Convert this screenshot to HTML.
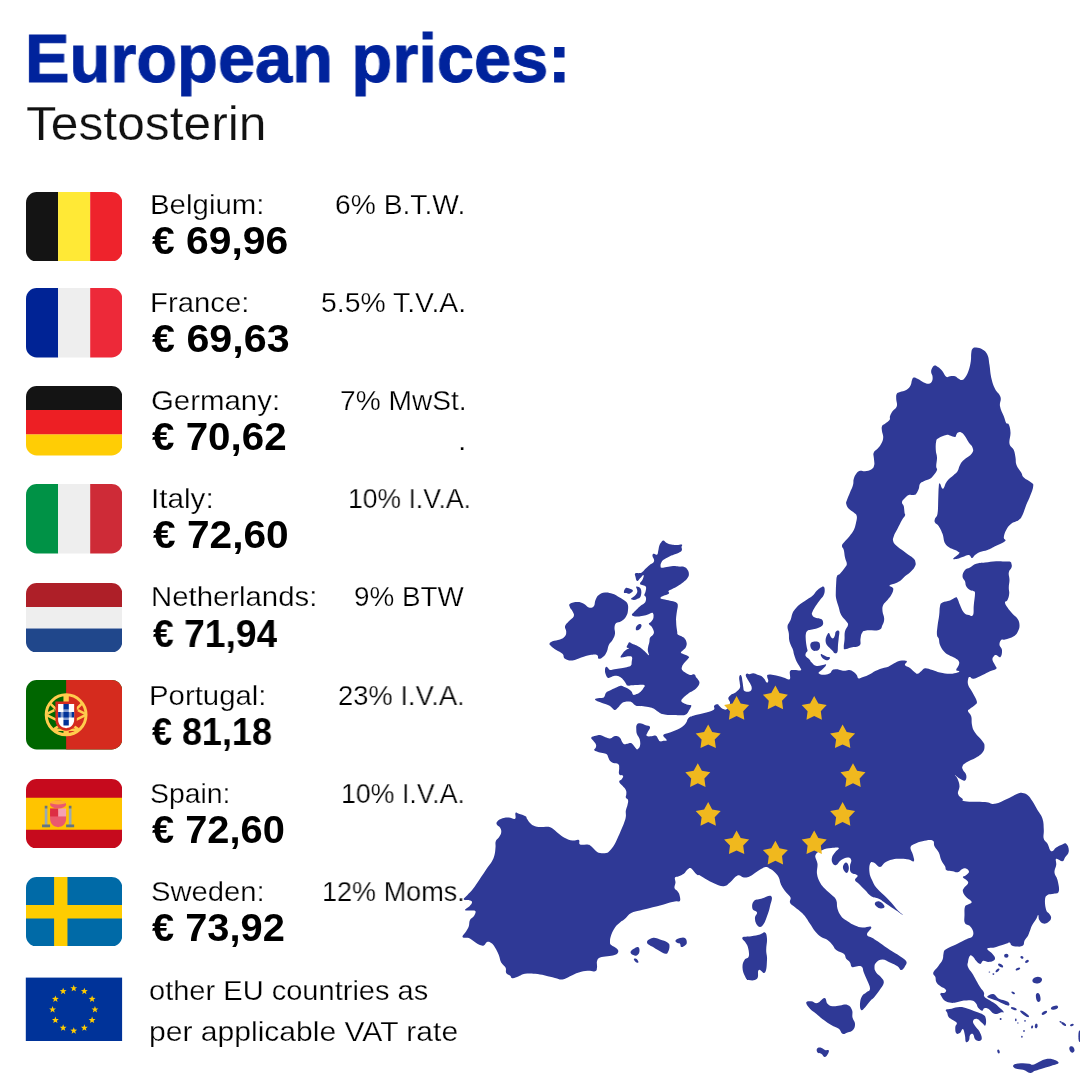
<!DOCTYPE html>
<html><head><meta charset="utf-8">
<style>
html,body{margin:0;padding:0;}
body{width:1080px;height:1080px;background:#fff;position:relative;overflow:hidden;font-family:"Liberation Sans",sans-serif;color:#000;}
.t{position:absolute;white-space:nowrap;line-height:1;transform-origin:0 0;will-change:transform;}
.t.l{-webkit-text-stroke:0.25px #fff;}
.t.b{-webkit-text-stroke:1px #00239c;}
.fl{position:absolute;display:block;}
#map{position:absolute;left:0;top:0;width:1080px;height:1080px;}
</style></head><body>

<div id="n0" class="t l" style="left:149.77px;top:190.92px;font-size:27.5px;font-weight:normal;color:#000;transform:scaleX(1.0697)">Belgium:</div>
<div id="p0" class="t" style="left:152.00px;top:222.03px;font-size:38px;font-weight:bold;color:#000;transform:scaleX(1.0739)">€ 69,96</div>
<div id="v0" class="t l" style="left:334.94px;top:190.92px;font-size:27.5px;font-weight:normal;color:#000;transform:scaleX(1.0272)">6% B.T.W.</div>
<div id="n1" class="t l" style="left:149.78px;top:289.05px;font-size:27.5px;font-weight:normal;color:#000;transform:scaleX(1.0662)">France:</div>
<div id="p1" class="t" style="left:152.00px;top:320.16px;font-size:38px;font-weight:bold;color:#000;transform:scaleX(1.0850)">€ 69,63</div>
<div id="v1" class="t l" style="left:320.93px;top:289.05px;font-size:27.5px;font-weight:normal;color:#000;transform:scaleX(1.0317)">5.5% T.V.A.</div>
<div id="n2" class="t l" style="left:150.85px;top:387.18px;font-size:27.5px;font-weight:normal;color:#000;transform:scaleX(1.0692)">Germany:</div>
<div id="p2" class="t" style="left:152.00px;top:418.29px;font-size:38px;font-weight:bold;color:#000;transform:scaleX(1.0617)">€ 70,62</div>
<div id="v2" class="t l" style="left:339.93px;top:387.18px;font-size:27.5px;font-weight:normal;color:#000;transform:scaleX(1.0229)">7% MwSt.</div>
<div id="n3" class="t l" style="left:150.70px;top:485.31px;font-size:27.5px;font-weight:normal;color:#000;transform:scaleX(1.0799)">Italy:</div>
<div id="p3" class="t" style="left:152.99px;top:516.42px;font-size:38px;font-weight:bold;color:#000;transform:scaleX(1.0704)">€ 72,60</div>
<div id="v3" class="t l" style="left:348.09px;top:485.31px;font-size:27.5px;font-weight:normal;color:#000;transform:scaleX(0.9649)">10% I.V.A.</div>
<div id="n4" class="t l" style="left:150.84px;top:583.44px;font-size:27.5px;font-weight:normal;color:#000;transform:scaleX(1.0664)">Netherlands:</div>
<div id="p4" class="t" style="left:153.01px;top:614.55px;font-size:38px;font-weight:bold;color:#000;transform:scaleX(0.9803)">€ 71,94</div>
<div id="v4" class="t l" style="left:353.97px;top:583.44px;font-size:27.5px;font-weight:normal;color:#000;transform:scaleX(1.0126)">9% BTW</div>
<div id="n5" class="t l" style="left:148.78px;top:681.57px;font-size:27.5px;font-weight:normal;color:#000;transform:scaleX(1.0677)">Portugal:</div>
<div id="p5" class="t" style="left:152.01px;top:712.68px;font-size:38px;font-weight:bold;color:#000;transform:scaleX(0.9457)">€ 81,18</div>
<div id="v5" class="t l" style="left:337.99px;top:681.57px;font-size:27.5px;font-weight:normal;color:#000;transform:scaleX(0.9945)">23% I.V.A.</div>
<div id="n6" class="t l" style="left:149.92px;top:779.70px;font-size:27.5px;font-weight:normal;color:#000;transform:scaleX(1.0322)">Spain:</div>
<div id="p6" class="t" style="left:152.00px;top:810.81px;font-size:38px;font-weight:bold;color:#000;transform:scaleX(1.0481)">€ 72,60</div>
<div id="v6" class="t l" style="left:341.06px;top:779.70px;font-size:27.5px;font-weight:normal;color:#000;transform:scaleX(0.9723)">10% I.V.A.</div>
<div id="n7" class="t l" style="left:150.86px;top:877.83px;font-size:27.5px;font-weight:normal;color:#000;transform:scaleX(1.0621)">Sweden:</div>
<div id="p7" class="t" style="left:152.00px;top:908.94px;font-size:38px;font-weight:bold;color:#000;transform:scaleX(1.0481)">€ 73,92</div>
<div id="v7" class="t l" style="left:322.04px;top:877.83px;font-size:27.5px;font-weight:normal;color:#000;transform:scaleX(0.9830)">12% Moms.</div>
<div id="o1" class="t l" style="left:148.89px;top:976.62px;font-size:27.5px;font-weight:normal;color:#000;transform:scaleX(1.0560)">other EU countries as</div>
<div id="o2" class="t l" style="left:148.81px;top:1018.22px;font-size:27.5px;font-weight:normal;color:#000;transform:scaleX(1.0932)">per applicable VAT rate</div>
<div id="dot" class="t l" style="left:457.50px;top:426.72px;font-size:27.5px;font-weight:normal;color:#000;transform:scaleX(1.1000)">.</div>
<div id="title" class="t b" style="left:25.16px;top:24.34px;font-size:69.3px;font-weight:bold;color:#00239c;transform:scaleX(0.9635)">European prices:</div>
<div id="sub" class="t l" style="left:25.95px;top:99.99px;font-size:47.5px;font-weight:normal;color:#111;transform:scaleX(1.0467)">Testosterin</div>
<svg class="fl" style="left:25.7px;top:191.5px;width:96.3px;height:69.55px" viewBox="0 5 36 26" preserveAspectRatio="none"><path fill="#141414" d="M4 5C1.791 5 0 6.791 0 9v18c0 2.209 1.791 4 4 4h8V5H4z"/><path fill="#FFE936" d="M12 5h12v26H12z"/><path fill="#EE232C" d="M32 5h-8v26h8c2.209 0 4-1.791 4-4V9c0-2.209-1.791-4-4-4z"/></svg>
<svg class="fl" style="left:25.7px;top:288.0px;width:96.3px;height:69.55px" viewBox="0 5 36 26" preserveAspectRatio="none"><path fill="#002395" d="M4 5C1.791 5 0 6.791 0 9v18c0 2.209 1.791 4 4 4h8V5H4z"/><path fill="#EEEEEE" d="M12 5h12v26H12z"/><path fill="#ED2939" d="M32 5h-8v26h8c2.209 0 4-1.791 4-4V9c0-2.209-1.791-4-4-4z"/></svg>
<svg class="fl" style="left:25.7px;top:386.0px;width:96.3px;height:69.55px" viewBox="0 5 36 26" preserveAspectRatio="none"><path fill="#FFCD05" d="M0 27c0 2.209 1.791 4 4 4h28c2.209 0 4-1.791 4-4v-4H0v4z"/><path fill="#ED1F24" d="M0 14h36v9H0z"/><path fill="#141414" d="M32 5H4C1.791 5 0 6.791 0 9v5h36V9c0-2.209-1.791-4-4-4z"/></svg>
<svg class="fl" style="left:25.7px;top:484.0px;width:96.3px;height:69.55px" viewBox="0 5 36 26" preserveAspectRatio="none"><path fill="#009246" d="M4 5C1.791 5 0 6.791 0 9v18c0 2.209 1.791 4 4 4h8V5H4z"/><path fill="#EEEEEE" d="M12 5h12v26H12z"/><path fill="#CE2B37" d="M32 5h-8v26h8c2.209 0 4-1.791 4-4V9c0-2.209-1.791-4-4-4z"/></svg>
<svg class="fl" style="left:25.7px;top:582.6px;width:96.3px;height:69.55px" viewBox="0 5 36 26" preserveAspectRatio="none"><path fill="#EEEEEE" d="M0 14h36v8H0z"/><path fill="#AE1F28" d="M32 5H4C1.791 5 0 6.791 0 9v5h36V9c0-2.209-1.791-4-4-4z"/><path fill="#20478B" d="M0 27c0 2.209 1.791 4 4 4h28c2.209 0 4-1.791 4-4v-5H0v5z"/></svg>
<svg class="fl" style="left:25.7px;top:680.1px;width:96.3px;height:69.55px" viewBox="0 5 36 26" preserveAspectRatio="none"><path fill="#006600" d="M36 27c0 2.209-1.791 4-4 4H4c-2.209 0-4-1.791-4-4V9c0-2.209 1.791-4 4-4h28c2.209 0 4 1.791 4 4v18z"/><path fill="#D52B1E" d="M32 5H15v26h17c2.209 0 4-1.791 4-4V9c0-2.209-1.791-4-4-4z"/><g fill="none" stroke="#FFCC4D" stroke-linecap="butt"><circle cx="15" cy="18" r="7.45" stroke-width="1.1"/><path stroke-width="2" d="M15 10.3v15.4"/><path stroke-width="0.95" d="M9.2 13.9l5.2 5.2M20.8 13.9l-5.2 5.2M7.8 18.1l5.6 2.8M22.2 18.1l-5.6 2.8M10.4 23.4l4-2.7M19.6 23.4l-4-2.7M10.6 23.6h8.8M8 17.6l2.6-1.3M22 17.6l-2.6-1.3"/></g><path fill="#D52B1E" d="M11 13v7c0 2.209 1.791 4 4 4s4-1.791 4-4v-7h-8z"/><path fill="#FFF" d="M12 14v6c0 1.656 1.343 3 3 3s3-1.344 3-3v-6h-6z"/><path fill="#829ACD" d="M13 17h4v2h-4z"/><path fill="#829ACD" d="M14 16h2v4h-2z"/><path fill="#039" d="M12 17h1v2h-1zm2 0h2v2h-2zm3 0h1v2h-1zm-3 3h2v2h-2zm0-6h2v2h-2z"/></svg>
<svg class="fl" style="left:25.7px;top:778.5px;width:96.3px;height:69.55px" viewBox="0 5 36 26" preserveAspectRatio="none"><path fill="#C60A1D" d="M36 27c0 2.209-1.791 4-4 4H4c-2.209 0-4-1.791-4-4V9c0-2.209 1.791-4 4-4h28c2.209 0 4 1.791 4 4v18z"/><path fill="#FFC400" d="M0 12h36v12H0z"/><path fill="#EA596E" d="M9 17v3c0 1.657 1.343 3 3 3s3-1.343 3-3v-3H9z"/><path fill="#F4A2B2" d="M12 16h3v3h-3z"/><path fill="#DD2E44" d="M9 16h3v3H9z"/><ellipse fill="#EA596E" cx="12" cy="14.5" rx="3" ry="1.5"/><ellipse fill="#FFAC33" cx="12" cy="13.75" rx="3" ry=".75"/><path fill="#99AAB5" d="M7 16h1v7H7zm9 0h1v7h-1z"/><path fill="#66757F" d="M6 22h3v1H6zm9 0h3v1h-3zm-8-7h1v1H7zm9 0h1v1h-1z"/></svg>
<svg class="fl" style="left:25.7px;top:876.6px;width:96.3px;height:69.55px" viewBox="0 5 36 26" preserveAspectRatio="none"><path fill="#006AA7" d="M36 27c0 2.209-1.791 4-4 4H4c-2.209 0-4-1.791-4-4V9c0-2.209 1.791-4 4-4h28c2.209 0 4 1.791 4 4v18z"/><path fill="#FECC00" d="M10.5 5h5v26h-5z"/><path fill="#FECC00" d="M0 15.5h36v5H0z"/></svg>
<svg class="fl" style="left:0;top:0;width:1080px;height:1080px" viewBox="0 0 1080 1080"><rect x="25.8" y="977.6" width="96.3" height="63.4" fill="#003399"/><g fill="#FFCC00"><polygon points="73.75,984.80 74.64,987.18 77.17,987.29 75.19,988.87 75.87,991.31 73.75,989.91 71.63,991.31 72.31,988.87 70.33,987.29 72.86,987.18"/><polygon points="84.35,987.64 85.24,990.02 87.77,990.13 85.79,991.71 86.47,994.15 84.35,992.75 82.23,994.15 82.91,991.71 80.93,990.13 83.46,990.02"/><polygon points="92.11,995.40 93.00,997.78 95.53,997.89 93.55,999.47 94.23,1001.91 92.11,1000.51 89.99,1001.91 90.67,999.47 88.69,997.89 91.22,997.78"/><polygon points="94.95,1006.00 95.84,1008.38 98.37,1008.49 96.39,1010.07 97.07,1012.51 94.95,1011.11 92.83,1012.51 93.51,1010.07 91.53,1008.49 94.06,1008.38"/><polygon points="92.11,1016.60 93.00,1018.98 95.53,1019.09 93.55,1020.67 94.23,1023.11 92.11,1021.71 89.99,1023.11 90.67,1020.67 88.69,1019.09 91.22,1018.98"/><polygon points="84.35,1024.36 85.24,1026.74 87.77,1026.85 85.79,1028.43 86.47,1030.87 84.35,1029.47 82.23,1030.87 82.91,1028.43 80.93,1026.85 83.46,1026.74"/><polygon points="73.75,1027.20 74.64,1029.58 77.17,1029.69 75.19,1031.27 75.87,1033.71 73.75,1032.31 71.63,1033.71 72.31,1031.27 70.33,1029.69 72.86,1029.58"/><polygon points="63.15,1024.36 64.04,1026.74 66.57,1026.85 64.59,1028.43 65.27,1030.87 63.15,1029.47 61.03,1030.87 61.71,1028.43 59.73,1026.85 62.26,1026.74"/><polygon points="55.39,1016.60 56.28,1018.98 58.81,1019.09 56.83,1020.67 57.51,1023.11 55.39,1021.71 53.27,1023.11 53.95,1020.67 51.97,1019.09 54.50,1018.98"/><polygon points="52.55,1006.00 53.44,1008.38 55.97,1008.49 53.99,1010.07 54.67,1012.51 52.55,1011.11 50.43,1012.51 51.11,1010.07 49.13,1008.49 51.66,1008.38"/><polygon points="55.39,995.40 56.28,997.78 58.81,997.89 56.83,999.47 57.51,1001.91 55.39,1000.51 53.27,1001.91 53.95,999.47 51.97,997.89 54.50,997.78"/><polygon points="63.15,987.64 64.04,990.02 66.57,990.13 64.59,991.71 65.27,994.15 63.15,992.75 61.03,994.15 61.71,991.71 59.73,990.13 62.26,990.02"/></g></svg>
<svg id="map" viewBox="0 0 1080 1080">
<g fill="#2f3996">
<path d="M591.3 737.5C591.9 736.4 594.0 736.4 595.8 735.8C597.7 735.3 598.4 734.9 600.0 735.0C601.6 735.1 601.7 735.7 603.3 736.3C605.0 737.0 605.9 737.6 607.5 738.0C609.1 738.4 609.4 738.7 610.8 738.3C612.3 738.0 612.7 736.8 614.2 736.3C615.6 735.9 616.2 735.9 617.5 736.3C618.8 736.8 619.4 737.2 620.3 738.3C621.3 739.5 621.2 740.4 622.0 741.7C622.8 742.9 623.0 743.7 624.2 744.2C625.4 744.6 626.1 743.9 627.5 743.7C628.9 743.4 629.6 742.7 630.8 743.0C632.1 743.3 632.2 743.8 633.3 745.0C634.4 746.2 634.9 747.4 635.8 748.3C636.7 749.2 636.6 749.7 637.5 749.2C638.4 748.6 639.5 748.0 640.0 745.8C640.5 743.7 640.3 741.7 639.7 739.2C639.0 736.6 637.7 736.2 637.0 734.2C636.3 732.2 636.4 732.0 636.3 730.0C636.3 728.0 635.9 726.4 636.7 725.0C637.5 723.6 638.2 723.3 640.0 723.3C641.8 723.3 642.8 724.2 645.0 725.0C647.2 725.8 649.5 725.4 650.0 727.0C650.5 728.6 648.2 730.6 647.5 732.5C646.8 734.4 645.8 735.0 646.7 735.8C647.6 736.7 649.7 736.3 651.7 736.3C653.7 736.3 654.4 735.2 655.8 735.8C657.3 736.4 657.4 738.0 658.3 739.2C659.2 740.4 658.9 741.0 660.0 741.3C661.1 741.7 661.9 741.1 663.3 740.8C664.8 740.5 666.7 741.3 666.7 740.0C666.7 738.7 662.6 736.6 663.3 735.0C664.1 733.4 666.4 733.9 670.0 732.5C673.6 731.1 676.6 730.3 680.0 728.3C683.4 726.3 684.0 725.5 685.8 723.3C687.6 721.2 686.7 720.0 688.3 718.3C690.0 716.7 690.1 716.9 693.3 715.8C696.6 714.8 699.0 714.6 703.3 713.3C707.7 712.1 711.0 711.6 713.3 710.0C715.7 708.4 713.3 707.1 714.2 705.8C715.1 704.6 716.4 704.2 717.5 704.2C718.6 704.1 718.2 704.8 719.2 705.8C720.3 706.7 720.8 708.0 722.5 708.8C724.2 709.5 725.4 710.2 727.0 709.0C728.6 707.8 729.7 705.3 730.0 703.0C730.3 700.7 728.2 700.1 728.3 698.3C728.5 696.6 729.6 696.1 730.8 695.0C732.1 693.9 732.7 694.2 734.2 693.3C735.6 692.4 736.2 692.1 737.5 690.8C738.8 689.6 739.5 689.3 740.0 687.5C740.5 685.7 739.8 684.7 739.7 682.5C739.5 680.3 739.0 679.1 739.2 677.5C739.3 675.9 739.8 675.2 740.3 675.0C740.9 674.8 741.2 675.2 741.7 676.7C742.1 678.1 742.1 679.3 742.5 681.7C742.9 684.0 743.0 685.5 743.3 687.5C743.7 689.5 743.3 689.9 744.2 690.8C745.1 691.7 746.1 691.7 747.5 691.7C748.9 691.7 749.9 691.7 750.8 690.8C751.7 689.9 751.8 689.1 751.7 687.5C751.5 685.9 750.9 685.1 750.0 683.3C749.1 681.5 748.4 680.8 747.5 679.2C746.6 677.5 746.0 677.0 745.8 675.8C745.7 674.6 745.9 674.0 746.7 673.7C747.4 673.3 747.7 674.2 749.2 674.2C750.6 674.1 751.5 673.2 753.3 673.3C755.1 673.4 755.9 674.1 757.5 674.7C759.1 675.2 759.4 675.0 760.8 675.8C762.3 676.7 762.9 677.2 764.2 678.7C765.4 680.1 765.8 682.0 766.7 682.5C767.6 683.0 768.2 682.1 768.3 680.8C768.4 679.6 767.2 678.0 767.2 676.7C767.2 675.3 766.6 675.0 768.3 674.7C770.0 674.4 771.8 674.7 775.0 675.3C778.2 675.9 780.2 676.7 783.3 677.5C786.5 678.3 788.2 680.5 789.7 679.2C791.1 677.8 789.0 673.3 790.0 671.3C791.0 669.3 791.8 670.2 794.2 670.0C796.5 669.8 799.6 671.1 800.8 670.3C802.0 669.6 800.6 668.5 799.7 666.7C798.8 664.8 797.9 664.2 796.7 661.7C795.5 659.1 795.0 657.5 794.2 655.0C793.4 652.5 793.7 652.2 793.0 650.0C792.3 647.8 791.7 647.2 790.8 645.0C790.0 642.8 789.6 642.5 789.2 640.0C788.7 637.5 789.2 636.2 788.8 633.3C788.5 630.4 787.4 629.0 787.5 626.7C787.6 624.3 788.4 624.1 789.2 622.5C789.9 620.9 790.1 621.2 790.8 619.2C791.6 617.2 791.6 615.5 792.5 613.3C793.4 611.2 793.4 611.2 795.0 609.2C796.6 607.2 797.5 606.2 800.0 604.2C802.5 602.1 804.0 601.5 806.7 599.7C809.4 597.9 810.3 597.7 812.5 595.8C814.7 593.9 814.9 592.6 816.7 590.8C818.5 589.0 819.3 588.4 820.8 587.5C822.4 586.6 822.8 586.1 823.7 586.7C824.5 587.2 824.7 588.2 824.7 590.0C824.7 591.8 824.7 592.8 823.7 595.0C822.7 597.2 821.7 597.7 820.0 600.0C818.3 602.3 817.5 603.3 815.8 605.8C814.2 608.4 813.3 609.7 812.5 611.7C811.7 613.7 811.6 613.7 812.2 615.0C812.7 616.3 813.3 616.7 815.0 617.5C816.7 618.3 818.4 618.1 820.0 618.7C821.6 619.3 821.9 619.1 822.5 620.3C823.1 621.5 823.4 622.8 823.0 624.2C822.6 625.5 822.4 625.7 820.8 626.7C819.3 627.6 818.0 628.0 815.8 628.7C813.7 629.3 812.6 629.2 810.8 629.7C809.0 630.1 808.6 629.9 807.5 630.8C806.4 631.8 806.2 632.2 805.8 634.2C805.5 636.2 805.7 637.3 805.8 640.0C806.0 642.7 806.3 644.3 806.7 646.7C807.0 649.0 807.7 649.4 807.5 650.8C807.3 652.3 806.2 652.1 805.8 653.3C805.5 654.5 805.1 655.1 805.8 656.3C806.6 657.6 807.9 657.8 809.2 659.2C810.4 660.5 810.2 661.1 811.7 662.5C813.1 663.9 813.7 665.2 815.8 665.8C818.0 666.4 819.5 665.7 821.7 665.3C823.8 665.0 825.1 663.9 825.8 664.2C826.6 664.5 825.9 665.4 825.0 666.7C824.1 667.9 823.0 668.7 821.7 670.0C820.3 671.3 819.0 671.6 818.7 672.5C818.3 673.4 818.6 673.7 820.0 674.2C821.4 674.6 822.8 674.8 825.0 674.7C827.2 674.5 828.4 674.3 830.0 673.3C831.6 672.3 831.1 670.9 832.5 670.0C833.9 669.1 835.0 669.2 836.7 669.2C838.3 669.2 838.4 669.6 840.0 670.0C841.6 670.4 842.2 670.8 844.2 670.8C846.2 670.8 847.2 669.8 849.2 670.0C851.2 670.2 851.7 670.6 853.3 671.7C855.0 672.8 855.6 673.6 856.7 675.0C857.8 676.4 857.2 677.8 858.3 678.3C859.4 678.9 859.5 678.2 861.7 677.5C863.8 676.8 865.3 676.4 868.3 675.0C871.4 673.6 872.8 672.3 875.8 670.8C878.9 669.4 879.8 669.2 882.5 668.3C885.2 667.4 885.8 667.8 888.3 666.7C890.9 665.6 891.6 664.6 894.2 663.3C896.7 662.1 897.3 661.3 900.0 660.8C902.7 660.4 905.7 660.3 906.8 661.2C907.8 662.2 904.3 663.5 905.0 665.0C905.7 666.5 907.8 666.4 910.0 668.0C912.2 669.6 913.4 671.3 915.0 672.5C916.6 673.7 916.1 674.0 917.5 673.8C918.9 673.5 919.6 672.4 921.2 671.2C922.9 670.1 922.6 668.5 925.0 668.2C927.4 668.0 929.2 669.1 932.5 670.0C935.8 670.9 936.2 671.7 940.0 672.5C943.8 673.3 946.2 673.8 950.0 673.8C953.8 673.8 955.5 673.0 957.5 672.5C959.5 672.0 959.5 671.8 959.2 671.2C959.0 670.7 956.4 671.4 956.2 670.0C956.1 668.6 958.2 666.9 958.8 665.0C959.3 663.1 959.6 662.8 958.8 661.2C957.9 659.7 957.2 659.4 955.0 658.0C952.8 656.6 951.2 656.5 948.8 655.0C946.3 653.5 945.6 653.4 943.8 651.2C941.9 649.1 941.1 647.7 940.0 645.0C938.9 642.3 939.4 640.9 938.8 638.8C938.1 636.6 937.3 637.7 937.0 635.0C936.7 632.3 937.0 630.6 937.5 626.2C938.0 621.9 938.7 619.3 939.2 615.0C939.8 610.7 939.3 609.0 940.0 606.2C940.7 603.5 940.3 603.7 942.5 602.5C944.7 601.3 947.2 601.6 950.0 600.5C952.8 599.4 953.9 597.9 955.5 597.5C957.1 597.1 956.5 597.1 957.5 598.8C958.5 600.4 958.6 602.0 960.0 605.0C961.4 608.0 961.9 610.3 963.8 612.5C965.6 614.7 966.7 614.5 968.8 615.0C970.8 615.5 971.9 617.2 973.0 615.0C974.1 612.8 973.3 609.6 973.8 605.0C974.2 600.4 975.0 596.7 975.0 593.8C975.0 590.8 974.8 592.1 973.8 591.2C972.7 590.4 971.6 591.1 970.0 590.0C968.4 588.9 967.3 588.1 966.2 586.2C965.2 584.4 965.8 583.4 965.0 581.2C964.2 579.1 962.5 578.7 962.5 576.2C962.5 573.8 963.4 571.9 965.0 570.0C966.6 568.1 967.6 568.9 970.0 567.5C972.4 566.1 973.0 564.8 976.2 563.8C979.5 562.7 980.7 563.0 985.0 562.5C989.3 562.0 991.6 561.5 996.2 561.2C1000.9 561.0 1003.2 561.4 1006.2 561.5C1009.3 561.6 1009.1 561.2 1010.2 561.8C1011.4 562.3 1011.2 562.8 1011.5 564.0C1011.8 565.2 1012.1 565.7 1011.5 567.5C1010.9 569.3 1009.2 569.8 1008.8 572.5C1008.3 575.2 1009.5 576.8 1009.5 580.0C1009.5 583.2 1008.8 584.5 1008.8 587.5C1008.7 590.5 1009.5 591.0 1009.2 593.8C1009.0 596.5 1008.4 598.1 1007.5 600.0C1006.6 601.9 1005.0 600.9 1005.0 602.5C1005.0 604.1 1005.9 605.1 1007.5 607.5C1009.1 609.9 1010.3 611.3 1012.5 613.8C1014.7 616.2 1016.0 616.3 1017.5 618.8C1019.0 621.2 1019.4 622.3 1019.5 625.0C1019.6 627.7 1019.2 628.8 1018.0 631.2C1016.8 633.7 1016.6 634.5 1013.8 636.2C1010.9 638.0 1007.7 638.7 1005.0 639.5C1002.3 640.3 1002.4 638.8 1001.2 640.0C1000.1 641.2 999.3 642.8 999.5 645.0C999.7 647.2 1001.8 647.4 1002.0 650.0C1002.2 652.6 1001.7 655.9 1000.5 657.0C999.3 658.1 997.7 655.2 996.2 655.0C994.8 654.8 994.6 655.2 993.8 656.2C992.9 657.3 992.2 658.1 992.5 660.0C992.8 661.9 994.2 663.1 995.0 665.0C995.8 666.9 997.3 667.4 996.2 668.8C995.2 670.1 993.0 669.9 990.0 671.2C987.0 672.6 986.0 673.4 982.5 675.0C979.0 676.6 976.5 678.3 973.8 678.8C971.0 679.2 971.2 677.0 970.0 677.0C968.8 677.0 968.6 677.0 968.2 678.8C967.9 680.5 967.3 682.0 968.2 685.0C969.2 688.0 970.7 689.0 972.5 692.5C974.3 696.0 976.2 698.5 976.8 701.2C977.3 704.0 976.5 703.4 975.0 705.0C973.5 706.6 971.5 707.4 970.0 708.8C968.5 710.1 967.7 709.6 968.0 711.2C968.3 712.9 970.4 713.3 971.2 716.2C972.1 719.2 971.2 721.5 972.0 725.0C972.8 728.5 972.7 729.0 975.0 732.5C977.3 736.0 980.4 738.3 982.5 741.2C984.6 744.2 984.5 743.8 984.5 746.2C984.5 748.7 984.3 750.1 982.5 752.5C980.7 754.9 979.8 755.3 976.2 757.5C972.7 759.7 969.2 760.6 966.2 762.5C963.3 764.4 963.2 764.6 962.5 766.2C961.8 767.9 962.2 768.1 963.0 770.0C963.8 771.9 965.8 772.7 966.2 775.0C966.7 777.3 966.4 779.7 965.0 780.5C963.6 781.3 962.2 779.9 960.0 778.8C957.8 777.6 955.5 775.0 955.0 775.0C954.5 775.0 956.5 776.3 957.5 778.8C958.5 781.2 959.4 783.0 959.5 786.2C959.6 789.5 957.4 791.0 958.0 793.8C958.6 796.5 961.0 797.1 962.5 798.8C964.0 800.4 960.1 800.5 965.0 801.2C969.9 802.0 978.5 801.5 985.0 802.0C991.5 802.5 990.1 804.5 995.0 803.8C999.9 803.0 1002.6 800.9 1007.5 798.8C1012.4 796.6 1014.2 795.0 1017.5 793.8C1020.8 792.5 1020.3 792.7 1022.5 793.0C1024.7 793.3 1025.3 793.2 1027.5 795.0C1029.7 796.8 1030.3 798.0 1032.5 801.2C1034.7 804.5 1035.3 806.2 1037.5 810.0C1039.7 813.8 1041.1 814.4 1042.5 818.8C1043.9 823.1 1043.5 825.7 1043.8 830.0C1044.0 834.3 1042.9 835.8 1043.8 838.8C1044.6 841.7 1045.9 841.0 1047.5 843.8C1049.1 846.5 1049.4 850.4 1051.2 851.2C1053.1 852.1 1054.1 848.9 1056.2 847.5C1058.4 846.1 1059.1 845.8 1061.2 845.0C1063.4 844.2 1064.6 842.4 1066.2 843.8C1067.9 845.1 1069.0 848.3 1068.8 851.2C1068.5 854.2 1066.4 855.3 1065.0 857.5C1063.6 859.7 1064.4 861.0 1062.5 861.2C1060.6 861.5 1057.6 857.9 1056.2 858.8C1054.9 859.6 1056.6 862.0 1056.2 865.0C1055.9 868.0 1054.2 869.2 1054.5 872.5C1054.8 875.8 1056.6 875.9 1057.5 880.0C1058.4 884.1 1059.6 888.3 1058.8 891.2C1057.9 894.2 1056.2 892.9 1053.8 893.8C1051.3 894.6 1049.4 893.6 1047.5 895.0C1045.6 896.4 1045.3 896.8 1045.0 900.0C1044.7 903.2 1045.3 907.0 1046.2 910.0C1047.2 913.0 1048.4 912.2 1049.4 914.0C1050.5 915.7 1051.3 916.3 1051.1 918.1C1050.9 919.8 1050.1 920.9 1048.4 922.1C1046.7 923.3 1045.3 924.0 1043.3 923.6C1041.3 923.1 1040.4 921.9 1039.3 920.1C1038.2 918.2 1038.9 915.2 1038.2 915.0C1037.6 914.8 1037.5 916.9 1036.2 919.1C1034.9 921.3 1033.5 922.8 1032.1 925.2C1030.8 927.6 1031.0 928.1 1030.1 930.3C1029.2 932.5 1029.2 933.2 1028.1 935.4C1026.9 937.6 1025.7 938.3 1024.6 940.5C1023.5 942.7 1024.6 944.2 1023.0 945.6C1021.3 946.9 1019.3 946.6 1016.9 946.6C1014.4 946.6 1013.3 946.4 1011.8 945.6C1010.2 944.7 1010.8 942.9 1009.7 942.5C1008.6 942.1 1008.7 942.9 1006.7 943.5C1004.7 944.2 1003.2 944.7 1000.6 945.6C997.9 946.4 997.3 946.9 994.4 947.6C991.6 948.3 988.0 947.5 987.3 948.6C986.7 949.7 989.8 950.8 991.4 952.7C993.0 954.6 994.4 955.6 994.9 957.4C995.3 959.1 994.8 959.9 993.4 960.8C992.0 961.8 990.5 961.9 988.3 961.9C986.1 961.9 985.0 960.4 983.2 960.8C981.5 961.3 981.7 963.9 980.2 963.9C978.6 963.9 977.7 962.4 976.1 960.8C974.6 959.3 974.4 957.9 973.1 956.8C971.7 955.7 971.1 954.6 970.0 955.7C968.9 956.8 968.4 959.4 968.0 961.9C967.5 964.3 967.1 964.5 968.0 966.9C968.8 969.4 970.3 970.2 972.0 973.1C973.8 975.9 974.3 977.1 976.1 980.2C977.9 983.3 978.5 984.7 980.2 987.3C981.9 990.0 983.0 990.4 983.9 992.4C984.7 994.4 983.3 994.9 984.3 996.5C985.2 998.0 986.3 998.2 988.3 999.5C990.3 1000.9 991.2 1001.0 993.4 1002.6C995.6 1004.1 996.3 1004.7 998.5 1006.7C1000.7 1008.7 1003.2 1010.5 1003.6 1011.8C1004.1 1013.0 1002.5 1011.9 1000.6 1012.4C998.6 1012.8 997.1 1014.6 994.4 1013.8C991.8 1013.0 990.5 1009.9 988.3 1008.7C986.1 1007.5 985.6 1007.9 984.3 1008.3C982.9 1008.7 983.5 1010.9 982.2 1010.7C980.9 1010.6 979.5 1009.2 978.1 1007.7C976.8 1006.1 977.4 1005.2 976.1 1003.6C974.8 1002.1 974.7 1001.2 972.0 1000.6C969.4 999.9 967.4 1000.1 963.9 1000.6C960.4 1001.0 958.8 1002.2 955.7 1002.6C952.7 1003.0 952.1 1003.0 949.6 1002.6C947.2 1002.2 946.3 1001.9 944.5 1000.6C942.8 999.2 942.4 998.0 941.5 996.5C940.6 994.9 939.7 994.3 940.5 993.4C941.3 992.5 944.0 993.3 945.1 992.4C946.3 991.5 946.6 990.7 945.6 989.4C944.5 988.0 942.4 987.8 940.5 986.3C938.5 984.8 937.5 984.2 936.4 982.2C935.3 980.2 936.0 979.2 935.4 977.1C934.7 975.1 932.7 975.1 933.3 972.6C934.0 970.2 936.4 968.7 938.4 965.9C940.4 963.1 941.4 962.5 942.5 959.8C943.6 957.2 942.9 955.9 943.5 953.7C944.2 951.5 943.3 951.4 945.6 949.6C947.8 947.9 950.2 947.3 953.7 945.6C957.2 943.8 958.8 943.0 961.9 941.5C964.9 939.9 965.7 939.5 968.0 938.4C970.3 937.3 971.3 937.9 972.4 936.4C973.5 934.8 973.6 933.5 973.1 931.3C972.5 929.1 971.8 928.0 970.0 926.2C968.2 924.4 966.1 925.6 964.9 923.1C963.7 920.7 964.5 918.5 964.5 915.0C964.5 911.5 964.2 909.1 964.9 906.9C965.7 904.6 966.5 905.5 968.0 904.4C969.4 903.3 972.1 903.4 971.6 901.8C971.2 900.1 967.8 898.9 965.9 896.7C964.0 894.5 963.2 893.6 962.9 891.6C962.5 889.6 963.2 889.3 964.3 887.5C965.4 885.7 967.4 885.0 968.0 883.4C968.5 881.9 968.0 881.7 966.9 880.4C965.8 879.0 963.1 878.4 962.9 877.3C962.6 876.2 964.6 876.5 965.9 875.3C967.2 874.1 969.0 873.3 969.0 871.8C969.0 870.4 967.5 869.1 965.9 868.6C964.4 868.0 963.6 868.4 961.9 869.2C960.1 870.0 959.8 871.8 957.8 872.2C955.8 872.7 955.1 871.6 952.7 871.2C950.3 870.8 948.2 871.3 946.6 870.2C944.9 869.1 946.2 868.5 945.0 866.2C943.8 864.0 942.6 863.0 941.2 860.0C939.9 857.0 940.2 855.5 938.8 852.5C937.3 849.5 935.9 848.9 934.5 846.2C933.1 843.6 935.1 841.6 932.5 840.5C929.9 839.4 926.3 840.5 922.5 841.2C918.7 842.0 917.6 842.4 915.0 843.8C912.4 845.1 910.9 845.1 910.5 847.5C910.1 849.9 912.3 852.0 913.0 855.0C913.7 858.0 914.7 860.3 913.8 861.2C912.8 862.2 911.5 860.0 908.8 859.5C906.0 859.0 904.8 858.8 901.2 858.8C897.7 858.8 896.0 858.7 892.5 859.5C889.0 860.3 887.7 860.9 885.0 862.5C882.3 864.1 882.4 867.0 880.0 867.0C877.6 867.0 875.9 863.2 873.8 862.5C871.6 861.8 870.9 861.6 870.0 863.8C869.1 865.9 869.1 869.0 869.5 872.5C869.9 876.0 870.5 876.8 872.0 880.0C873.5 883.2 873.7 884.2 876.2 887.5C878.8 890.8 880.5 891.8 883.8 895.0C887.0 898.2 888.3 899.2 891.2 902.5C894.2 905.8 895.0 907.3 897.5 910.0C900.0 912.7 903.3 914.9 903.0 915.0C902.7 915.1 899.9 912.9 896.2 910.5C892.6 908.1 890.0 906.3 886.2 903.8C882.5 901.2 882.0 900.4 878.8 898.8C875.5 897.1 874.2 898.1 871.2 896.2C868.3 894.4 867.7 892.7 865.0 890.0C862.3 887.3 860.9 885.9 858.8 883.8C856.6 881.6 855.3 881.8 855.0 880.0C854.7 878.2 858.3 877.1 857.5 875.5C856.7 873.9 852.9 874.5 851.2 872.5C849.6 870.5 850.0 869.0 850.0 866.2C850.0 863.5 851.8 861.9 851.2 860.0C850.7 858.1 849.7 857.5 847.5 857.5C845.3 857.5 843.7 858.4 841.2 860.0C838.8 861.6 838.1 864.4 836.2 865.0C834.4 865.6 833.4 864.6 832.5 863.0C831.6 861.4 831.5 859.8 832.0 857.5C832.5 855.2 833.5 854.6 835.0 852.5C836.5 850.4 839.6 849.0 838.8 848.0C837.9 847.0 834.8 847.6 831.2 848.0C827.7 848.4 825.9 848.5 822.5 850.0C819.1 851.5 816.6 852.0 815.5 855.0C814.4 858.0 817.2 859.7 817.5 863.8C817.8 867.8 816.5 869.7 817.0 873.8C817.5 877.8 818.3 879.2 820.0 882.5C821.7 885.8 822.6 886.1 825.0 888.8C827.4 891.4 828.8 892.1 831.2 894.5C833.7 896.9 834.9 896.9 836.2 900.0C837.6 903.1 836.4 905.2 837.5 908.8C838.6 912.3 839.1 913.5 841.2 916.2C843.4 919.0 844.5 919.2 847.5 921.2C850.5 923.3 851.8 924.1 855.0 925.5C858.2 926.9 859.0 927.2 862.5 927.5C866.0 927.8 870.3 925.5 871.2 927.0C872.2 928.5 866.7 932.1 867.0 934.5C867.3 936.9 869.7 936.2 872.5 938.0C875.3 939.8 876.2 940.4 880.0 943.0C883.8 945.6 885.7 947.1 890.0 950.0C894.3 952.9 896.5 953.8 900.0 956.2C903.5 958.7 905.2 959.1 906.2 961.2C907.3 963.4 906.1 964.4 905.0 966.2C903.9 968.1 902.9 970.0 901.2 970.0C899.6 970.0 899.9 967.9 897.5 966.2C895.1 964.6 893.2 964.0 890.0 962.5C886.8 961.0 885.5 959.5 882.5 959.5C879.5 959.5 878.0 960.8 876.2 962.5C874.5 964.2 874.5 965.3 874.5 967.5C874.5 969.7 874.8 970.3 876.2 972.5C877.7 974.7 879.6 975.3 881.2 977.5C882.9 979.7 883.9 980.1 883.8 982.5C883.6 984.9 882.4 985.8 880.5 988.8C878.6 991.7 877.3 993.5 875.0 996.2C872.7 999.0 872.2 998.8 870.0 1001.2C867.8 1003.7 866.9 1005.6 865.0 1007.5C863.1 1009.4 862.3 1010.8 861.2 1010.0C860.2 1009.2 859.8 1006.7 860.0 1003.8C860.2 1000.8 860.6 998.7 862.0 996.2C863.4 993.8 864.5 994.1 866.2 992.5C868.0 990.9 869.8 991.5 870.0 988.8C870.2 986.0 868.4 983.5 867.0 980.0C865.6 976.5 864.8 975.3 863.8 972.5C862.7 969.7 863.4 968.4 862.0 967.0C860.6 965.6 859.7 966.2 857.5 966.2C855.3 966.2 853.6 967.8 852.0 967.0C850.4 966.2 851.2 964.3 850.0 962.5C848.8 960.7 847.6 960.6 846.2 958.8C844.9 956.9 845.9 955.6 843.8 953.8C841.6 951.9 838.7 951.9 836.2 950.0C833.8 948.1 834.4 947.2 832.5 945.0C830.6 942.8 829.9 941.7 827.5 940.0C825.1 938.3 824.0 938.9 821.2 937.0C818.5 935.1 817.4 934.1 815.0 931.2C812.6 928.4 812.2 927.0 810.0 923.8C807.8 920.5 807.2 919.0 805.0 916.2C802.8 913.5 802.4 913.4 800.0 911.2C797.6 909.1 795.9 908.1 793.8 906.2C791.6 904.4 790.7 904.4 790.0 902.5C789.3 900.6 791.3 899.7 790.5 897.5C789.7 895.3 788.3 895.2 786.2 892.5C784.2 889.8 782.9 888.2 781.2 885.0C779.6 881.8 780.1 880.2 778.8 877.5C777.4 874.8 776.9 874.4 775.0 872.5C773.1 870.6 772.1 869.9 770.0 868.8C767.9 867.6 768.2 866.5 765.5 867.0C762.8 867.5 760.9 869.2 757.5 871.2C754.1 873.3 753.0 874.9 750.0 876.2C747.0 877.6 746.5 877.7 743.8 877.5C741.0 877.3 740.5 874.4 737.5 875.5C734.5 876.6 733.0 880.2 730.0 882.5C727.0 884.8 727.0 886.0 723.8 886.2C720.5 886.5 718.5 885.1 715.0 883.8C711.5 882.4 710.8 881.8 707.5 880.0C704.2 878.2 702.2 876.6 700.0 875.5C697.8 874.4 698.9 875.9 697.5 875.0C696.1 874.1 695.3 872.8 693.8 871.2C692.2 869.7 691.9 868.4 690.5 868.0C689.1 867.6 689.0 868.3 687.5 869.5C686.0 870.7 685.6 872.3 683.8 873.8C681.9 875.2 680.6 875.4 678.8 876.2C676.9 877.1 675.7 876.1 675.0 877.5C674.3 878.9 675.6 880.2 675.5 882.5C675.4 884.8 674.1 886.1 674.5 888.0C674.9 889.9 676.4 889.7 677.5 891.2C678.6 892.8 679.0 892.9 679.5 895.0C680.0 897.1 680.7 899.4 680.0 900.8C679.3 902.1 678.4 900.9 676.2 901.2C674.1 901.6 673.5 901.6 670.0 902.5C666.5 903.4 664.3 904.3 660.0 905.5C655.7 906.7 654.3 906.9 650.0 908.0C645.7 909.1 644.1 909.4 640.0 910.5C635.9 911.6 634.5 911.2 631.2 913.0C628.0 914.8 627.4 916.7 625.0 918.8C622.6 920.8 622.2 920.6 620.0 922.5C617.8 924.4 616.9 924.8 615.0 927.5C613.1 930.2 612.3 932.0 611.2 935.0C610.2 938.0 610.0 939.1 610.0 941.2C610.0 943.4 609.7 943.4 611.2 945.0C612.8 946.6 615.5 947.1 617.0 948.8C618.5 950.4 618.5 951.1 618.0 952.5C617.5 953.9 616.8 954.2 614.5 955.0C612.2 955.8 610.6 955.7 607.5 956.2C604.4 956.8 602.3 956.4 600.0 957.5C597.7 958.6 597.6 959.1 597.0 961.2C596.4 963.4 597.4 965.3 597.0 967.5C596.6 969.7 597.1 970.5 595.0 971.2C592.9 972.0 591.0 970.5 587.5 970.8C584.0 971.0 582.5 971.3 578.8 972.5C575.0 973.7 573.5 974.7 570.0 976.2C566.5 977.8 565.8 979.1 562.5 979.5C559.2 979.9 558.8 978.9 555.0 978.0C551.2 977.1 549.3 976.4 545.0 975.5C540.7 974.6 539.3 974.1 535.0 973.8C530.7 973.4 528.5 973.2 525.0 973.8C521.5 974.3 521.5 975.3 518.8 976.2C516.0 977.2 514.4 978.4 512.5 978.2C510.6 978.1 511.4 976.6 510.0 975.5C508.6 974.4 507.2 974.7 506.2 973.0C505.3 971.3 506.6 969.8 505.5 967.5C504.4 965.2 502.7 965.2 501.2 962.5C499.8 959.8 500.1 958.2 498.8 955.0C497.4 951.8 496.6 950.1 495.0 947.5C493.4 944.9 493.0 944.2 491.2 943.0C489.5 941.8 488.6 941.5 487.0 942.0C485.4 942.5 485.5 945.0 483.8 945.5C482.0 946.0 480.9 945.4 478.8 944.5C476.6 943.6 475.9 942.7 473.8 941.2C471.6 939.8 471.2 938.9 468.8 938.0C466.3 937.1 463.0 938.5 462.5 937.0C462.0 935.5 464.9 933.6 466.2 931.2C467.6 928.9 467.9 928.7 468.8 926.2C469.6 923.8 468.9 922.2 470.0 920.0C471.1 917.8 472.6 918.1 473.8 916.2C474.9 914.4 476.0 912.5 475.5 911.2C475.0 910.0 473.5 910.8 471.2 910.5C469.0 910.2 465.4 910.9 465.0 910.0C464.6 909.1 468.0 907.9 469.5 906.2C471.0 904.6 471.9 903.7 472.0 902.5C472.1 901.3 471.8 901.1 470.0 900.5C468.2 899.9 464.3 900.7 463.8 899.5C463.2 898.3 465.6 897.2 467.5 895.0C469.4 892.8 470.3 892.2 472.5 889.5C474.7 886.8 475.3 885.6 477.5 882.5C479.7 879.4 480.3 878.2 482.5 875.0C484.7 871.8 485.4 870.5 487.5 867.5C489.6 864.5 490.5 864.0 492.0 861.2C493.5 858.5 493.7 858.0 494.5 855.0C495.3 852.0 495.2 850.5 495.5 847.5C495.8 844.5 495.0 843.4 495.8 841.2C496.5 839.1 497.6 839.4 498.8 837.5C499.9 835.6 501.0 834.7 501.2 832.5C501.5 830.3 501.0 829.2 500.0 827.5C499.0 825.8 497.3 825.9 496.8 824.5C496.2 823.1 496.3 822.6 497.5 821.2C498.7 819.9 500.1 819.1 502.5 818.2C504.9 817.4 506.0 817.4 508.8 817.5C511.5 817.6 513.5 819.7 515.0 818.8C516.5 817.8 514.7 814.1 515.5 813.0C516.3 811.9 516.6 813.0 518.8 813.8C520.9 814.5 523.7 815.2 525.5 816.2C527.3 817.3 526.0 817.3 527.0 818.8C528.0 820.2 528.3 821.4 530.0 823.0C531.7 824.6 532.3 825.4 535.0 826.2C537.7 827.1 539.4 826.8 542.5 827.0C545.6 827.2 547.1 826.5 549.5 827.0C551.9 827.5 551.7 828.0 553.8 829.5C555.8 831.0 556.3 831.9 558.8 833.8C561.2 835.6 562.0 836.5 565.0 838.0C568.0 839.5 569.5 840.1 572.5 840.5C575.5 840.9 577.1 839.1 578.8 840.0C580.4 840.9 578.1 843.5 580.0 844.5C581.9 845.5 585.1 844.1 587.5 844.5C589.9 844.9 589.4 844.8 591.2 846.2C593.1 847.7 594.4 849.8 596.2 851.2C598.1 852.7 597.8 852.6 600.0 853.0C602.2 853.4 604.1 853.5 606.2 853.0C608.4 852.5 608.3 852.2 610.0 850.5C611.7 848.8 612.5 847.6 614.2 845.0C615.8 842.4 616.1 841.4 617.5 838.3C618.9 835.3 619.4 834.3 620.8 830.8C622.3 827.4 623.1 825.6 624.2 822.5C625.2 819.4 625.5 819.2 625.8 816.7C626.2 814.1 625.5 813.4 625.8 810.8C626.2 808.3 627.0 807.3 627.5 805.0C628.0 802.7 628.4 801.6 628.0 800.0C627.6 798.4 626.2 798.8 625.8 797.5C625.5 796.2 626.3 795.8 626.3 794.2C626.3 792.5 626.7 791.8 625.8 790.0C625.0 788.2 623.9 787.6 622.5 785.8C621.1 784.0 619.3 783.1 619.2 781.7C619.0 780.2 620.8 780.4 621.7 779.2C622.5 777.9 623.5 776.9 623.0 775.8C622.5 774.8 620.0 775.8 619.2 774.2C618.3 772.5 619.3 770.5 619.2 768.3C619.0 766.2 619.6 765.3 618.3 764.2C617.1 763.0 615.1 763.7 613.3 763.0C611.5 762.3 611.1 762.0 610.0 760.8C608.9 759.6 609.1 758.9 608.3 757.5C607.6 756.1 607.9 755.1 606.7 754.2C605.4 753.2 604.5 753.5 602.5 753.0C600.5 752.5 599.3 752.3 597.5 751.7C595.7 751.0 594.5 750.9 594.2 750.0C593.8 749.1 595.5 748.8 595.8 747.5C596.2 746.2 596.4 745.6 595.8 744.2C595.3 742.7 594.3 742.3 593.3 740.8C592.4 739.4 590.8 738.6 591.3 737.5Z"/>
<path d="M972.5 348.8C973.6 347.4 974.1 347.3 976.2 347.5C978.4 347.7 980.1 347.9 982.5 349.5C984.9 351.1 986.0 351.6 987.5 355.0C989.0 358.4 988.7 360.1 989.5 365.0C990.3 369.9 990.1 372.4 991.2 377.5C992.4 382.6 993.0 384.5 995.0 388.8C997.0 393.0 999.4 393.2 1000.5 397.0C1001.6 400.8 999.3 402.1 1000.0 406.2C1000.7 410.4 1002.4 412.6 1003.8 416.2C1005.1 419.9 1005.2 421.2 1006.2 423.0C1007.3 424.8 1007.8 422.4 1008.8 424.5C1009.7 426.6 1010.3 428.3 1010.5 432.5C1010.7 436.7 1008.8 440.0 1009.5 443.8C1010.2 447.5 1012.5 447.0 1013.8 450.0C1015.0 453.0 1014.9 454.2 1015.5 457.5C1016.1 460.8 1015.3 461.8 1016.5 465.0C1017.7 468.2 1019.7 469.8 1021.2 472.5C1022.8 475.2 1021.6 475.3 1023.8 477.5C1025.9 479.7 1029.2 480.6 1031.2 482.5C1033.3 484.4 1033.5 483.3 1033.2 486.2C1033.0 489.2 1031.5 492.2 1030.0 496.2C1028.5 500.3 1027.9 500.9 1026.2 505.0C1024.6 509.1 1024.1 511.8 1022.5 515.0C1020.9 518.2 1021.2 518.1 1018.8 520.0C1016.3 521.9 1014.0 521.6 1011.2 523.8C1008.5 525.9 1007.9 527.0 1006.2 530.0C1004.6 533.0 1004.0 535.1 1003.8 537.5C1003.5 539.9 1006.9 539.4 1005.0 541.2C1003.1 543.1 998.8 544.4 995.0 546.2C991.2 548.1 990.8 548.8 987.5 550.0C984.2 551.2 982.7 550.9 980.0 552.0C977.3 553.1 976.7 553.7 975.0 555.0C973.3 556.3 973.4 558.0 972.0 558.0C970.6 558.0 970.8 555.2 968.8 555.0C966.7 554.8 964.9 556.2 962.5 557.0C960.1 557.8 959.5 558.4 957.5 558.8C955.5 559.1 953.0 559.8 953.2 558.8C953.5 557.7 957.8 555.4 958.8 553.8C959.7 552.1 960.2 553.1 957.5 551.2C954.8 549.4 949.5 548.8 946.2 545.0C943.0 541.2 944.1 537.8 942.5 533.8C940.9 529.7 940.4 528.7 938.8 526.2C937.1 523.8 935.8 524.1 935.0 522.5C934.2 520.9 934.5 520.6 935.0 518.8C935.5 516.9 936.8 517.8 937.5 513.8C938.2 509.7 938.0 506.0 938.2 500.0C938.5 494.0 938.4 489.8 938.8 486.2C939.1 482.7 939.1 483.2 940.0 483.8C940.9 484.3 941.5 489.3 943.0 488.8C944.5 488.2 944.7 484.2 947.0 481.2C949.3 478.3 951.5 477.2 953.8 475.0C956.0 472.8 956.1 473.4 957.5 471.2C958.9 469.1 958.6 467.4 960.0 465.0C961.4 462.6 961.1 462.5 963.8 460.0C966.4 457.5 970.1 456.0 972.0 453.2C973.9 450.5 973.2 449.8 972.5 447.5C971.8 445.2 970.4 444.9 968.8 442.5C967.1 440.1 966.6 438.4 965.0 436.2C963.4 434.1 962.8 433.3 961.2 432.5C959.7 431.7 959.1 432.0 958.0 432.5C956.9 433.0 956.9 434.0 956.2 435.0C955.6 436.0 956.4 436.9 955.0 437.0C953.6 437.1 951.9 435.9 950.0 435.5C948.1 435.1 948.7 434.5 946.2 435.0C943.8 435.5 940.9 436.6 938.8 438.0C936.6 439.4 936.9 438.6 936.2 441.2C935.6 443.9 935.6 446.5 935.8 450.0C935.9 453.5 936.9 454.0 937.0 457.5C937.1 461.0 936.2 463.5 936.2 466.2C936.2 469.0 937.5 468.1 937.0 470.0C936.5 471.9 935.3 473.1 933.8 475.0C932.2 476.9 932.2 477.4 930.0 478.8C927.8 480.1 925.9 480.2 923.8 481.2C921.6 482.3 921.1 482.1 920.0 483.8C918.9 485.4 919.6 486.6 918.8 488.8C917.9 490.9 917.3 492.4 916.2 493.8C915.2 495.1 915.4 494.7 913.8 495.0C912.1 495.3 910.6 494.4 908.8 495.0C906.9 495.6 906.5 496.5 905.0 498.0C903.5 499.5 902.3 500.2 902.0 502.0C901.7 503.8 903.2 504.0 903.8 506.2C904.3 508.5 904.2 510.5 904.5 512.5C904.8 514.5 905.5 513.9 905.0 515.5C904.5 517.1 903.6 517.1 902.0 520.0C900.4 522.9 899.3 525.2 897.5 528.8C895.7 532.3 894.7 533.5 893.8 536.2C892.8 539.0 892.7 539.2 893.2 541.2C893.8 543.3 894.0 543.3 896.2 545.5C898.5 547.7 901.0 549.2 903.8 551.2C906.5 553.3 906.6 553.4 908.8 555.0C910.9 556.6 912.3 557.1 913.8 558.8C915.2 560.4 915.2 560.9 915.5 562.5C915.8 564.1 915.9 564.4 915.0 566.2C914.1 568.1 913.4 569.1 911.2 571.2C909.1 573.4 907.2 574.4 905.0 576.2C902.8 578.1 903.1 578.5 901.2 580.0C899.4 581.5 898.8 581.8 896.2 583.0C893.7 584.2 890.3 584.5 889.5 585.5C888.7 586.5 891.7 586.5 892.5 587.5C893.3 588.5 893.5 588.4 893.2 590.0C893.0 591.6 892.5 592.8 891.2 595.0C890.0 597.2 889.2 597.8 887.5 600.0C885.8 602.2 884.3 602.6 883.2 605.0C882.2 607.4 882.3 608.3 882.5 611.2C882.7 614.2 884.2 615.8 884.2 618.8C884.2 621.7 883.7 622.6 882.5 625.0C881.3 627.4 882.3 628.8 878.8 630.0C875.2 631.2 869.9 629.9 866.2 630.5C862.6 631.1 863.2 631.2 862.0 633.0C860.8 634.8 861.0 636.0 860.5 638.8C860.0 641.5 861.5 643.6 859.5 645.5C857.5 647.4 854.4 646.7 851.2 647.5C848.1 648.3 846.6 649.2 845.0 649.2C843.4 649.2 843.9 649.5 843.8 647.5C843.6 645.5 844.2 643.5 844.5 640.0C844.8 636.5 844.2 634.5 845.0 631.2C845.8 628.0 847.7 627.2 848.0 625.0C848.3 622.8 847.7 623.4 846.2 621.2C844.8 619.1 842.9 618.0 841.2 615.0C839.6 612.0 839.8 611.0 838.8 607.5C837.7 604.0 836.9 602.0 836.2 598.8C835.6 595.5 835.8 596.0 835.8 592.5C835.8 589.0 836.0 586.0 836.2 582.5C836.5 579.0 836.2 578.1 837.0 576.2C837.8 574.4 838.3 575.6 840.0 573.8C841.7 571.9 843.5 569.7 845.0 567.5C846.5 565.3 846.8 565.9 846.8 563.8C846.8 561.6 845.6 560.5 845.0 557.5C844.4 554.5 844.4 552.6 843.8 550.0C843.1 547.4 841.7 547.4 842.0 545.5C842.3 543.6 843.4 543.3 845.0 541.2C846.6 539.2 847.6 538.7 849.5 536.2C851.4 533.8 852.4 532.7 853.8 530.0C855.1 527.3 855.1 526.7 855.8 523.8C856.4 520.8 857.2 518.7 856.8 516.2C856.3 513.8 855.5 514.1 853.8 512.5C852.0 510.9 850.4 510.6 848.8 508.8C847.1 506.9 846.6 505.6 846.2 503.8C845.9 501.9 846.2 502.4 847.0 500.0C847.8 497.6 848.7 495.8 850.0 492.5C851.3 489.2 852.2 488.0 853.0 485.0C853.8 482.0 853.0 481.2 853.8 478.8C854.5 476.3 854.9 475.5 856.2 473.8C857.6 472.0 858.1 471.3 860.0 470.8C861.9 470.2 862.6 471.5 865.0 471.2C867.4 471.0 869.2 470.9 871.2 469.5C873.3 468.1 873.7 467.6 874.2 465.0C874.8 462.4 873.9 460.2 873.8 457.5C873.6 454.8 872.9 454.4 873.8 452.5C874.6 450.6 875.9 450.6 877.5 448.8C879.1 446.9 880.0 446.2 881.2 443.8C882.5 441.3 883.1 440.2 883.2 437.5C883.4 434.8 882.3 433.7 882.0 431.2C881.7 428.8 881.4 427.9 882.0 426.2C882.6 424.6 883.4 425.1 885.0 423.8C886.6 422.4 888.4 421.6 889.5 420.0C890.6 418.4 889.4 418.1 890.0 416.2C890.6 414.4 891.0 413.4 892.5 411.2C894.0 409.1 895.9 409.0 896.8 406.2C897.6 403.5 896.2 401.5 896.2 398.8C896.2 396.0 895.9 395.2 896.8 393.8C897.6 392.3 897.9 392.8 900.0 392.0C902.1 391.2 904.0 391.4 906.2 390.0C908.5 388.6 909.3 387.7 910.5 385.5C911.7 383.3 911.3 381.7 912.0 380.0C912.7 378.3 912.6 377.8 913.8 377.5C914.9 377.2 915.3 377.7 917.5 378.8C919.7 379.8 921.3 381.4 923.8 382.5C926.2 383.6 927.0 384.0 928.8 383.8C930.5 383.5 931.2 382.9 932.0 381.2C932.8 379.6 932.7 378.1 932.5 376.2C932.3 374.4 931.4 374.1 931.2 372.5C931.1 370.9 931.0 370.3 931.8 368.8C932.5 367.2 933.1 365.9 934.5 365.5C935.9 365.1 936.3 365.8 938.0 367.0C939.7 368.2 940.7 369.1 942.5 371.2C944.3 373.4 944.6 375.7 946.2 376.8C947.9 377.8 948.1 376.4 950.0 376.2C951.9 376.1 953.1 375.7 955.0 376.2C956.9 376.8 957.2 377.9 958.8 378.8C960.3 379.6 960.5 380.4 962.0 380.0C963.5 379.6 964.0 379.2 965.5 377.0C967.0 374.8 967.6 373.4 968.8 370.0C969.9 366.6 970.2 364.8 970.8 361.2C971.3 357.7 970.9 356.5 971.2 353.8C971.6 351.0 971.4 350.1 972.5 348.8Z"/>
<path d="M663.4 540.6C664.6 540.7 665.0 542.1 666.7 543.0C668.4 543.8 669.1 544.2 671.3 544.6C673.5 545.1 674.5 545.0 676.9 545.0C679.2 545.0 680.9 544.2 681.9 544.6C682.9 545.1 681.5 546.0 681.5 547.1C681.5 548.3 682.3 548.8 681.9 549.9C681.5 551.0 681.3 551.2 679.6 552.2C677.9 553.2 676.5 553.5 674.1 554.5C671.7 555.5 670.7 555.7 668.5 556.9C666.3 558.0 665.5 558.3 663.9 559.6C662.3 560.9 661.8 561.5 661.1 562.9C660.4 564.3 660.5 565.0 660.6 566.1C660.7 567.2 660.3 567.6 661.6 567.8C662.9 568.0 664.2 567.4 666.7 567.0C669.2 566.7 670.5 566.2 673.1 566.1C675.8 566.0 676.3 566.4 678.7 566.6C681.1 566.8 682.4 566.3 684.3 567.0C686.2 567.7 686.5 568.3 687.5 569.8C688.5 571.3 688.9 572.2 688.9 574.0C688.9 575.8 688.7 576.3 687.5 578.1C686.3 580.0 685.4 580.6 683.3 582.3C681.2 584.0 680.2 584.6 677.8 586.0C675.4 587.5 674.2 588.0 672.2 589.1C670.2 590.2 669.2 590.2 668.5 591.1C667.8 592.1 669.8 592.5 669.0 593.4C668.2 594.3 666.5 594.5 664.8 595.3C663.1 596.1 661.9 596.4 661.1 597.1C660.3 597.9 659.9 598.1 661.1 598.7C662.3 599.3 664.1 599.3 666.7 599.9C669.3 600.5 670.9 600.6 673.1 601.3C675.4 602.0 675.8 602.1 676.9 603.1C677.9 604.2 677.8 604.1 677.8 605.9C677.8 607.7 677.2 608.9 676.9 611.5C676.5 614.1 676.3 616.0 676.1 618.0C676.0 619.9 676.0 618.8 676.1 620.6C676.2 622.3 676.2 623.7 676.4 626.1C676.7 628.5 676.9 629.9 677.2 631.7C677.5 633.5 676.9 633.5 677.8 634.4C678.6 635.4 679.5 635.1 681.1 636.1C682.7 637.1 683.8 637.3 685.0 638.9C686.2 640.5 686.5 641.5 686.7 643.3C686.8 645.1 686.5 645.8 685.8 647.2C685.1 648.7 684.4 648.8 683.3 650.0C682.3 651.2 680.6 651.8 680.9 652.8C681.1 653.7 682.7 653.6 684.4 654.4C686.2 655.3 688.2 655.7 688.9 656.7C689.6 657.6 688.7 657.6 687.8 658.9C686.8 660.2 685.7 661.1 684.4 662.8C683.2 664.5 682.5 665.1 682.0 666.7C681.5 668.2 681.5 668.7 682.2 670.0C683.0 671.3 683.9 671.7 685.6 672.8C687.2 673.9 688.1 674.6 690.0 675.0C691.9 675.4 693.1 674.0 694.4 674.4C695.8 674.9 695.3 676.0 696.1 677.2C697.0 678.4 697.6 678.7 698.3 680.0C699.1 681.3 699.7 681.8 699.4 683.3C699.2 684.9 698.5 685.7 697.2 687.2C695.9 688.8 695.4 689.1 693.3 690.6C691.3 692.0 689.9 692.3 687.8 693.9C685.6 695.5 684.7 696.2 683.3 697.8C681.9 699.3 681.2 699.9 681.3 701.1C681.5 702.3 682.5 702.5 683.9 703.3C685.3 704.1 686.2 704.3 687.8 704.8C689.4 705.3 691.1 704.3 691.3 705.6C691.6 706.8 689.9 708.8 688.9 710.6C687.9 712.4 688.1 712.9 686.7 713.9C685.2 714.9 684.9 715.0 682.2 715.2C679.6 715.5 677.6 715.0 674.4 715.0C671.3 715.0 670.4 715.2 667.8 715.0C665.1 714.8 664.1 714.7 662.2 714.1C660.3 713.5 660.5 713.2 658.9 712.2C657.3 711.2 656.6 710.4 655.0 709.4C653.4 708.5 653.5 708.4 651.7 707.8C649.9 707.2 649.2 707.0 646.7 706.7C644.1 706.3 642.4 706.4 640.0 706.1C637.6 705.9 637.4 706.4 635.6 705.6C633.8 704.7 633.4 703.1 631.7 702.2C630.0 701.3 629.6 701.4 627.8 701.4C626.0 701.4 624.9 701.6 623.3 702.2C621.8 702.9 621.8 703.2 620.6 704.4C619.4 705.6 619.1 706.6 617.8 707.8C616.5 709.0 616.1 710.4 614.4 710.0C612.8 709.6 612.2 707.5 610.0 706.1C607.8 704.7 606.9 704.6 604.4 703.7C602.0 702.7 600.9 702.6 598.9 701.7C596.8 700.8 594.9 700.2 595.0 699.4C595.1 698.7 597.5 698.6 599.4 698.1C601.4 697.6 602.4 698.4 603.9 697.2C605.3 696.1 604.8 694.2 606.1 692.8C607.4 691.3 608.0 691.6 610.0 690.6C612.0 689.5 613.4 688.8 615.6 687.8C617.7 686.8 618.1 686.1 620.0 685.9C621.9 685.7 622.5 686.3 624.4 687.0C626.4 687.7 627.3 688.2 628.9 689.2C630.5 690.2 630.7 690.5 631.7 691.7C632.6 692.9 632.2 694.2 633.3 694.8C634.4 695.3 635.1 694.8 636.7 694.1C638.2 693.4 639.1 692.9 640.6 691.7C642.0 690.4 642.5 689.7 643.3 688.3C644.2 686.9 645.6 685.9 644.4 685.2C643.2 684.5 640.4 685.0 637.8 685.0C635.1 685.0 634.4 685.1 632.2 685.2C630.1 685.3 629.1 685.8 627.8 685.6C626.5 685.3 627.0 685.0 626.1 683.9C625.3 682.8 625.0 681.9 623.9 680.6C622.8 679.2 622.4 678.7 621.1 677.8C619.8 676.8 619.3 676.5 617.8 676.1C616.2 675.7 615.5 675.6 613.9 675.9C612.3 676.1 611.9 676.8 610.6 677.2C609.2 677.6 608.9 678.5 607.8 677.8C606.7 677.1 606.2 675.7 605.6 673.9C605.0 672.1 604.9 670.9 605.0 669.4C605.1 668.0 605.5 667.4 606.1 667.0C606.7 666.6 606.9 667.1 607.8 667.8C608.6 668.4 608.6 669.7 610.0 670.0C611.4 670.3 612.0 669.6 614.4 669.2C616.9 668.9 618.5 668.8 621.1 668.3C623.8 667.9 624.5 667.8 626.7 667.2C628.8 666.6 629.8 666.8 630.9 665.6C632.0 664.4 631.4 663.5 631.7 661.7C631.9 659.9 632.6 658.4 632.0 657.2C631.4 656.1 630.5 656.4 628.9 656.3C627.3 656.3 626.2 656.8 624.4 657.0C622.6 657.2 620.9 658.0 620.6 657.2C620.2 656.4 621.7 654.8 622.8 653.3C623.9 651.8 624.2 651.4 625.6 650.3C626.9 649.2 628.6 649.0 628.9 648.3C629.1 647.7 626.9 648.1 626.7 647.2C626.4 646.4 627.2 645.5 627.8 644.4C628.4 643.4 628.5 642.4 629.4 642.2C630.4 642.1 630.7 642.9 632.2 643.7C633.8 644.4 634.7 644.5 636.7 645.6C638.6 646.6 639.2 646.9 641.1 648.3C643.0 649.8 643.9 650.7 645.6 652.2C647.2 653.7 648.4 655.6 648.9 655.2C649.4 654.9 647.9 652.5 647.8 650.6C647.7 648.6 648.0 648.0 648.3 646.1C648.7 644.2 649.1 643.5 649.4 641.7C649.8 639.9 649.3 639.2 650.0 637.8C650.7 636.3 651.9 636.3 652.8 635.0C653.6 633.7 654.1 633.5 653.9 631.7C653.6 629.9 652.8 628.4 651.7 626.7C650.6 625.0 649.1 624.9 648.9 623.9C648.6 622.9 649.7 623.2 650.6 622.2C651.4 621.3 652.1 620.6 652.8 619.4C653.4 618.3 653.4 618.3 653.5 617.0C653.6 615.8 653.7 614.7 653.2 613.8C652.8 612.9 652.7 612.7 651.4 612.9C650.1 613.1 649.3 614.0 647.2 614.7C645.1 615.4 643.9 615.7 641.7 616.1C639.5 616.5 638.8 616.6 637.0 616.6C635.2 616.6 634.4 616.6 633.3 616.1C632.2 615.6 631.9 615.1 631.9 614.4C631.9 613.7 632.3 613.9 633.3 612.9C634.3 611.8 635.2 611.0 636.6 609.6C638.0 608.2 638.2 607.7 639.8 606.4C641.4 605.1 642.7 604.8 644.0 603.6C645.3 602.4 645.4 602.2 645.8 600.8C646.2 599.4 646.2 598.3 645.8 597.1C645.5 595.9 644.4 596.4 644.3 595.3C644.2 594.2 645.0 593.5 645.4 592.0C645.8 590.5 646.1 589.6 646.1 588.3C646.1 587.1 646.2 587.0 645.4 586.3C644.5 585.6 643.3 585.7 642.1 585.1C641.0 584.5 639.9 584.7 640.0 583.5C640.1 582.3 641.8 581.2 642.6 579.5C643.4 577.9 643.7 576.7 643.7 575.8C643.7 574.9 643.3 574.9 642.6 575.4C641.9 575.9 641.3 577.0 640.3 578.1C639.3 579.3 638.8 580.2 638.0 580.7C637.2 581.2 637.1 581.2 636.6 580.5C636.1 579.7 635.9 578.7 635.6 577.2C635.3 575.7 634.3 574.4 635.2 573.5C636.1 572.6 638.2 573.5 639.8 573.1C641.4 572.7 641.2 572.8 642.6 571.7C644.0 570.6 644.6 569.6 646.3 568.0C648.0 566.4 648.9 565.6 650.5 564.3C652.1 563.0 653.0 563.0 653.7 561.9C654.4 560.8 654.1 560.4 653.9 559.2C653.6 558.0 652.8 557.5 652.6 556.4C652.4 555.3 652.3 554.8 652.8 554.3C653.2 553.7 653.7 553.8 654.6 553.9C655.6 553.9 656.4 555.3 657.2 554.5C658.0 553.8 657.9 552.3 658.3 550.4C658.8 548.5 658.7 547.4 659.3 545.7C659.9 544.0 660.2 543.6 661.1 542.5C662.0 541.4 662.2 540.5 663.4 540.6Z"/>
<path d="M570.0 603.8C571.6 602.6 574.5 602.0 577.5 602.0C580.5 602.0 581.3 602.6 583.8 603.8C586.2 604.9 586.6 607.0 588.8 607.5C590.9 608.0 592.3 607.9 593.8 606.2C595.2 604.6 594.4 602.4 595.5 600.0C596.6 597.6 596.7 596.6 598.8 595.0C600.8 593.4 602.0 592.8 605.0 592.5C608.0 592.2 609.8 592.9 612.5 593.8C615.2 594.6 615.1 594.9 617.5 596.2C619.9 597.6 621.6 598.4 623.8 600.0C625.9 601.6 626.6 601.6 627.5 603.8C628.4 605.9 628.3 607.3 628.0 610.0C627.7 612.7 627.7 613.8 626.2 616.2C624.8 618.7 623.4 619.8 621.2 621.2C619.1 622.7 617.7 621.6 616.2 623.0C614.8 624.4 614.8 625.2 614.5 627.5C614.2 629.8 615.4 631.0 615.0 633.8C614.6 636.5 613.9 637.6 612.5 640.0C611.1 642.4 609.9 642.6 608.8 645.0C607.6 647.4 608.1 648.8 607.0 651.2C605.9 653.7 605.5 654.6 603.8 656.2C602.0 657.9 600.2 659.0 598.8 658.8C597.3 658.5 598.9 655.8 597.0 655.0C595.1 654.2 593.4 654.5 590.0 655.0C586.6 655.5 585.0 656.3 581.2 657.5C577.5 658.7 576.0 660.2 572.5 660.5C569.0 660.8 567.2 660.2 565.0 658.8C562.8 657.3 564.4 655.6 562.5 653.8C560.6 651.9 558.7 651.6 556.2 650.0C553.8 648.4 552.7 647.6 551.2 646.2C549.8 644.9 549.2 644.8 549.5 643.8C549.8 642.7 550.2 642.2 552.5 641.2C554.8 640.3 557.3 640.6 560.0 639.5C562.7 638.4 563.6 638.0 565.0 636.2C566.4 634.5 566.2 633.4 566.2 631.2C566.2 629.1 564.5 628.4 565.0 626.2C565.5 624.1 566.9 623.4 568.8 621.2C570.6 619.1 572.9 618.4 573.8 616.2C574.6 614.1 573.3 613.1 572.5 611.2C571.7 609.4 570.5 609.1 570.0 607.5C569.5 605.9 568.4 604.9 570.0 603.8Z"/>
<path d="M636.3 586.5C637.1 586.2 639.8 586.7 640.7 588.8C641.7 590.9 641.5 594.0 640.7 596.2C639.9 598.4 638.5 598.2 637.0 599.0C635.5 599.8 635.1 600.0 633.8 599.9C632.5 599.8 630.9 599.5 631.0 598.7C631.1 597.9 633.0 597.4 634.3 596.2C635.5 595.0 636.2 594.3 636.9 593.0C637.5 591.7 637.3 591.6 637.2 590.2C637.1 588.8 635.5 586.8 636.3 586.5Z"/>
<path d="M623.9 592.5C623.7 591.5 624.4 589.2 625.5 588.3C626.5 587.4 627.1 587.8 628.7 588.3C630.3 588.8 632.7 589.5 632.9 590.6C633.1 591.8 631.0 593.2 629.6 593.7C628.2 594.2 627.6 593.4 626.4 593.1C625.1 592.9 624.1 593.5 623.9 592.5Z"/>
<path d="M635.8 628.9C635.8 628.0 635.9 627.1 636.7 626.1C637.5 625.1 638.4 624.4 639.4 624.1C640.5 623.8 641.0 624.1 641.3 624.8C641.7 625.5 641.6 626.2 641.1 627.2C640.6 628.3 639.9 629.0 638.9 629.7C637.9 630.3 637.3 630.5 636.7 630.3C636.0 630.2 635.8 629.8 635.8 628.9Z"/>
<path d="M810.8 643.3C811.4 642.2 811.7 642.0 813.3 641.7C815.0 641.4 816.9 641.3 818.3 642.0C819.8 642.7 819.8 643.4 820.0 645.0C820.2 646.6 820.1 647.9 819.2 649.2C818.3 650.4 817.3 650.7 815.8 650.8C814.4 651.0 813.7 650.9 812.5 650.0C811.3 649.1 810.9 648.1 810.5 646.7C810.1 645.2 810.2 644.4 810.8 643.3Z"/>
<path d="M825.8 638.3C826.2 636.5 826.8 635.2 827.5 634.2C828.2 633.1 828.4 632.8 829.2 633.3C829.9 633.9 829.9 635.6 830.8 636.7C831.7 637.8 832.4 638.7 833.3 638.3C834.2 638.0 834.5 636.4 835.0 635.0C835.5 633.6 834.9 632.5 835.8 631.7C836.7 630.9 838.6 629.9 839.2 631.3C839.8 632.8 838.9 635.4 838.7 638.3C838.4 641.3 838.3 642.1 838.0 645.0C837.7 647.9 838.1 649.9 837.5 651.7C836.9 653.5 836.1 653.5 835.0 653.3C833.9 653.2 833.6 651.9 832.5 650.8C831.4 649.8 831.1 649.4 830.0 648.3C828.9 647.2 828.4 647.1 827.5 645.8C826.6 644.6 826.2 644.1 825.8 642.5C825.5 640.9 825.5 640.1 825.8 638.3Z"/>
<path d="M820.8 654.2C821.1 653.6 822.1 654.5 823.3 655.0C824.6 655.5 825.2 656.1 826.7 656.7C828.1 657.2 829.6 656.8 830.0 657.5C830.4 658.2 829.4 659.5 828.3 660.0C827.2 660.5 826.4 660.2 825.0 659.7C823.6 659.1 822.9 658.7 822.0 657.5C821.1 656.3 820.5 654.7 820.8 654.2Z"/>
<path d="M753.8 901.2C755.6 899.1 757.5 899.8 761.2 898.8C765.0 897.7 769.4 894.6 771.2 896.2C773.1 897.9 770.9 901.9 770.0 906.2C769.1 910.6 768.4 912.5 767.0 916.2C765.6 920.0 765.3 921.4 763.8 923.8C762.2 926.1 761.6 927.0 760.0 927.0C758.4 927.0 757.3 925.8 756.2 923.8C755.2 921.7 754.8 919.9 755.0 917.5C755.2 915.1 757.5 914.4 757.0 912.5C756.5 910.6 753.2 911.2 752.5 908.8C751.8 906.3 751.9 903.4 753.8 901.2Z"/>
<path d="M742.5 937.5C743.7 936.1 747.5 936.9 751.2 936.2C755.0 935.6 757.0 935.3 760.0 934.5C763.0 933.7 763.5 931.6 765.0 932.5C766.5 933.4 766.7 935.0 767.0 938.8C767.3 942.5 766.2 945.4 766.2 950.0C766.2 954.6 767.3 955.1 767.0 960.0C766.7 964.9 766.8 970.3 765.0 972.5C763.2 974.7 760.5 968.6 758.8 970.0C757.0 971.4 759.2 976.6 757.0 978.8C754.8 980.9 751.4 980.5 748.8 980.0C746.1 979.5 746.4 979.0 745.0 976.2C743.6 973.5 742.6 971.0 742.5 967.5C742.4 964.0 743.1 962.4 744.5 960.0C745.9 957.6 748.0 959.0 748.8 956.2C749.5 953.5 748.7 950.5 748.0 947.5C747.3 944.5 746.7 944.7 745.5 942.5C744.3 940.3 741.3 938.9 742.5 937.5Z"/>
<path d="M806.2 1002.5C806.5 1000.9 808.8 1001.1 811.2 1001.2C813.7 1001.4 814.6 1003.7 817.5 1003.0C820.4 1002.3 822.3 997.8 824.5 998.0C826.7 998.2 825.8 1002.0 827.5 1003.8C829.2 1005.5 829.8 1005.9 832.5 1006.2C835.2 1006.6 836.8 1005.8 840.0 1005.5C843.2 1005.2 844.9 1004.0 847.5 1005.0C850.1 1006.0 850.9 1007.3 852.0 1010.0C853.1 1012.7 851.9 1014.5 852.5 1017.5C853.1 1020.5 854.9 1021.0 855.0 1023.8C855.1 1026.5 854.6 1028.1 853.0 1030.0C851.4 1031.9 849.8 1031.7 847.5 1032.5C845.2 1033.3 844.4 1034.6 842.5 1033.8C840.6 1032.9 841.2 1030.6 838.8 1028.8C836.3 1026.9 834.5 1026.9 831.2 1025.0C828.0 1023.1 827.0 1022.4 823.8 1020.0C820.5 1017.6 819.2 1016.2 816.2 1013.8C813.3 1011.3 812.2 1011.2 810.0 1008.8C807.8 1006.3 806.0 1004.1 806.2 1002.5Z"/>
<path d="M817.0 1048.8C817.6 1047.7 818.8 1047.2 820.5 1047.5C822.2 1047.8 823.2 1049.3 825.0 1050.0C826.8 1050.7 828.2 1049.5 828.8 1050.5C829.3 1051.5 828.4 1053.1 827.5 1054.5C826.6 1055.9 825.9 1057.2 824.5 1057.0C823.1 1056.8 822.8 1054.7 821.2 1053.8C819.7 1052.8 818.4 1053.6 817.5 1052.5C816.6 1051.4 816.4 1049.8 817.0 1048.8Z"/>
<path d="M843.0 866.2C843.4 864.4 845.0 862.3 846.2 862.5C847.5 862.7 848.5 864.8 848.8 867.0C849.0 869.2 848.4 871.6 847.5 872.5C846.6 873.4 845.5 872.6 844.5 871.2C843.5 869.9 842.6 868.1 843.0 866.2Z"/>
<path d="M875.0 903.0C875.6 901.9 877.4 900.8 879.5 901.5C881.6 902.2 884.1 904.7 884.5 906.2C884.9 907.8 883.0 908.4 881.2 908.5C879.5 908.6 877.9 907.7 876.5 906.5C875.1 905.3 874.4 904.1 875.0 903.0Z"/>
<path d="M630.5 952.5C630.3 951.0 632.1 949.9 633.8 948.8C635.4 947.6 636.8 946.6 638.0 947.0C639.2 947.4 639.5 948.9 639.5 950.5C639.5 952.1 639.1 953.4 638.0 954.5C636.9 955.6 636.1 955.9 634.5 955.5C632.9 955.1 630.7 954.0 630.5 952.5Z"/>
<path d="M633.8 959.2C633.7 958.4 635.2 958.2 636.2 958.8C637.3 959.3 638.4 961.2 638.5 962.0C638.6 962.8 637.5 963.1 636.5 962.5C635.5 961.9 633.8 960.1 633.8 959.2Z"/>
<path d="M647.0 942.5C646.7 940.4 649.7 938.6 652.5 938.0C655.3 937.4 656.8 938.5 660.0 939.5C663.2 940.5 665.4 941.0 667.5 942.5C669.6 944.0 669.4 944.2 669.5 946.2C669.6 948.3 668.9 950.4 668.0 952.0C667.1 953.6 667.2 953.9 665.5 953.8C663.8 953.6 662.5 952.6 660.0 951.2C657.5 949.9 656.6 949.4 653.8 947.5C650.9 945.6 647.3 944.6 647.0 942.5Z"/>
<path d="M675.5 940.5C676.0 939.4 677.9 938.5 680.0 938.0C682.1 937.5 683.5 937.0 685.0 938.0C686.5 939.0 686.8 940.9 686.8 942.5C686.8 944.1 686.2 944.5 685.0 945.5C683.8 946.5 682.3 947.4 681.2 947.0C680.2 946.6 680.8 944.6 680.0 943.8C679.2 942.9 678.5 943.7 677.5 943.0C676.5 942.3 675.0 941.6 675.5 940.5Z"/>
<path d="M946.0 1009.7C946.9 1008.8 948.7 1009.3 951.7 1008.7C954.7 1008.1 956.3 1007.1 959.8 1007.1C963.3 1007.1 964.4 1007.7 968.0 1008.7C971.5 1009.7 972.8 1010.4 976.1 1011.8C979.4 1013.1 981.1 1013.3 983.2 1014.8C985.4 1016.4 985.4 1016.6 985.9 1018.9C986.3 1021.2 986.1 1024.5 985.3 1025.4C984.5 1026.3 984.0 1024.4 982.2 1023.0C980.5 1021.6 979.1 1019.3 977.1 1018.9C975.1 1018.4 973.5 1019.4 973.1 1020.9C972.6 1022.5 973.8 1023.8 975.1 1026.0C976.4 1028.2 977.7 1028.5 979.2 1031.1C980.6 1033.8 981.8 1036.1 981.8 1038.2C981.8 1040.4 980.6 1040.7 979.2 1040.9C977.7 1041.1 976.4 1040.7 975.1 1039.3C973.8 1037.8 974.2 1035.0 973.1 1034.2C972.0 1033.3 970.9 1033.9 970.0 1035.2C969.1 1036.5 969.9 1038.8 969.0 1040.3C968.1 1041.7 966.8 1043.0 965.9 1041.9C965.0 1040.8 965.6 1038.0 964.9 1035.2C964.2 1032.4 964.0 1029.5 962.9 1029.1C961.8 1028.6 961.3 1032.3 959.8 1033.1C958.4 1034.0 957.1 1034.5 956.1 1033.1C955.2 1031.8 955.2 1029.2 955.3 1027.0C955.5 1024.8 957.3 1024.5 956.8 1023.0C956.2 1021.4 954.5 1021.2 952.7 1019.9C950.9 1018.6 949.8 1018.4 948.6 1016.9C947.4 1015.3 947.8 1014.3 947.2 1012.8C946.6 1011.2 945.0 1010.6 946.0 1009.7Z"/>
<path d="M987.3 996.5C988.0 995.5 991.0 993.6 993.4 994.0C995.9 994.5 996.1 997.1 998.5 998.5C1000.9 999.9 1002.4 999.7 1004.6 1000.6C1006.8 1001.4 1007.8 1001.5 1008.7 1002.6C1009.6 1003.7 1010.0 1005.4 1008.7 1005.6C1007.4 1005.9 1005.2 1004.7 1002.6 1003.6C999.9 1002.5 999.1 1001.7 996.5 1000.6C993.8 999.5 992.4 999.4 990.4 998.5C988.4 997.6 986.7 997.5 987.3 996.5Z"/>
<path d="M1013.8 1064.7C1015.1 1063.7 1017.6 1063.5 1020.9 1063.3C1024.2 1063.1 1026.4 1063.4 1029.1 1063.7C1031.7 1064.0 1030.9 1065.2 1033.1 1064.7C1035.4 1064.3 1036.6 1062.9 1039.3 1061.7C1041.9 1060.5 1042.5 1059.8 1045.4 1059.2C1048.2 1058.7 1049.6 1058.5 1052.5 1059.2C1055.4 1060.0 1058.8 1061.3 1058.6 1062.7C1058.4 1064.1 1054.8 1064.5 1051.5 1065.7C1048.2 1066.9 1046.9 1067.1 1043.3 1068.2C1039.8 1069.3 1038.1 1069.8 1035.2 1070.8C1032.3 1071.8 1032.7 1073.1 1030.1 1072.9C1027.4 1072.6 1026.3 1070.8 1023.0 1069.8C1019.7 1068.8 1016.8 1069.3 1014.8 1068.2C1012.8 1067.1 1012.5 1065.8 1013.8 1064.7Z"/>
<ellipse cx="1006.3" cy="955.7" rx="2.2" ry="2.0" transform="rotate(0 1006.3 955.7)"/>
<ellipse cx="1021.9" cy="957.4" rx="1.6" ry="1.2" transform="rotate(30 1021.9 957.4)"/>
<ellipse cx="1027.0" cy="961.4" rx="2.0" ry="1.2" transform="rotate(-30 1027.0 961.4)"/>
<ellipse cx="1000.6" cy="965.5" rx="2.9" ry="1.4" transform="rotate(30 1000.6 965.5)"/>
<ellipse cx="997.5" cy="970.4" rx="2.4" ry="1.2" transform="rotate(-40 997.5 970.4)"/>
<ellipse cx="1017.9" cy="969.0" rx="2.4" ry="1.2" transform="rotate(-25 1017.9 969.0)"/>
<ellipse cx="993.4" cy="974.1" rx="1.0" ry="0.8" transform="rotate(0 993.4 974.1)"/>
<ellipse cx="989.4" cy="972.0" rx="0.8" ry="0.6" transform="rotate(0 989.4 972.0)"/>
<ellipse cx="1037.2" cy="980.2" rx="4.9" ry="3.3" transform="rotate(-10 1037.2 980.2)"/>
<ellipse cx="1038.2" cy="997.5" rx="2.2" ry="4.5" transform="rotate(-10 1038.2 997.5)"/>
<ellipse cx="1013.2" cy="992.8" rx="2.0" ry="1.0" transform="rotate(30 1013.2 992.8)"/>
<ellipse cx="1054.5" cy="1007.7" rx="3.7" ry="1.8" transform="rotate(-15 1054.5 1007.7)"/>
<ellipse cx="1044.4" cy="1012.8" rx="3.1" ry="1.4" transform="rotate(-30 1044.4 1012.8)"/>
<ellipse cx="1013.8" cy="1008.7" rx="3.1" ry="1.2" transform="rotate(20 1013.8 1008.7)"/>
<ellipse cx="1024.6" cy="1013.8" rx="5.3" ry="1.4" transform="rotate(35 1024.6 1013.8)"/>
<ellipse cx="1000.6" cy="1018.9" rx="1.0" ry="1.0" transform="rotate(0 1000.6 1018.9)"/>
<ellipse cx="1015.8" cy="1019.9" rx="0.8" ry="1.4" transform="rotate(0 1015.8 1019.9)"/>
<ellipse cx="1017.9" cy="1023.0" rx="0.6" ry="0.8" transform="rotate(0 1017.9 1023.0)"/>
<ellipse cx="1025.0" cy="1020.9" rx="0.8" ry="0.8" transform="rotate(0 1025.0 1020.9)"/>
<ellipse cx="1032.1" cy="1027.0" rx="1.0" ry="1.6" transform="rotate(15 1032.1 1027.0)"/>
<ellipse cx="1036.2" cy="1026.0" rx="1.4" ry="2.4" transform="rotate(10 1036.2 1026.0)"/>
<ellipse cx="1063.7" cy="1024.0" rx="2.9" ry="1.2" transform="rotate(35 1063.7 1024.0)"/>
<ellipse cx="1071.9" cy="1025.0" rx="2.0" ry="1.0" transform="rotate(-25 1071.9 1025.0)"/>
<ellipse cx="1060.6" cy="1021.9" rx="1.2" ry="0.8" transform="rotate(30 1060.6 1021.9)"/>
<ellipse cx="1024.0" cy="1031.1" rx="0.8" ry="1.0" transform="rotate(0 1024.0 1031.1)"/>
<ellipse cx="1021.9" cy="1036.8" rx="0.8" ry="1.0" transform="rotate(0 1021.9 1036.8)"/>
<ellipse cx="998.5" cy="1051.5" rx="1.2" ry="2.0" transform="rotate(-15 998.5 1051.5)"/>
<ellipse cx="1071.9" cy="1049.4" rx="2.4" ry="3.3" transform="rotate(-20 1071.9 1049.4)"/>
<ellipse cx="1079.6" cy="1036.2" rx="1.2" ry="5.7" transform="rotate(0 1079.6 1036.2)"/>
</g>
<g fill="#f0b81e">
<polygon points="775.4,685.6 779.5,693.1 787.9,694.7 782.0,700.8 783.1,709.3 775.4,705.6 767.7,709.3 768.8,700.8 762.9,694.7 771.3,693.1"/>
<polygon points="814.2,696.0 818.3,703.5 826.7,705.0 820.8,711.2 821.9,719.7 814.2,716.0 806.5,719.7 807.6,711.2 801.7,705.0 810.1,703.5"/>
<polygon points="842.6,724.4 846.7,731.9 855.1,733.5 849.2,739.6 850.3,748.1 842.6,744.4 834.9,748.1 836.1,739.6 830.1,733.5 838.6,731.9"/>
<polygon points="853.0,763.2 857.1,770.7 865.5,772.3 859.6,778.4 860.7,786.9 853.0,783.2 845.3,786.9 846.4,778.4 840.5,772.3 848.9,770.7"/>
<polygon points="842.6,802.0 846.7,809.5 855.1,811.1 849.2,817.2 850.3,825.7 842.6,822.0 834.9,825.7 836.1,817.2 830.1,811.1 838.6,809.5"/>
<polygon points="814.2,830.4 818.3,837.9 826.7,839.5 820.8,845.6 821.9,854.1 814.2,850.4 806.5,854.1 807.6,845.6 801.7,839.5 810.1,837.9"/>
<polygon points="775.4,840.8 779.5,848.3 787.9,849.9 782.0,856.0 783.1,864.5 775.4,860.8 767.7,864.5 768.8,856.0 762.9,849.9 771.3,848.3"/>
<polygon points="736.6,830.4 740.7,837.9 749.1,839.5 743.2,845.6 744.3,854.1 736.6,850.4 728.9,854.1 730.0,845.6 724.1,839.5 732.5,837.9"/>
<polygon points="708.2,802.0 712.2,809.5 720.7,811.1 714.7,817.2 715.9,825.7 708.2,822.0 700.5,825.7 701.6,817.2 695.7,811.1 704.1,809.5"/>
<polygon points="697.8,763.2 701.9,770.7 710.3,772.3 704.4,778.4 705.5,786.9 697.8,783.2 690.1,786.9 691.2,778.4 685.3,772.3 693.7,770.7"/>
<polygon points="708.2,724.4 712.2,731.9 720.7,733.5 714.7,739.6 715.9,748.1 708.2,744.4 700.5,748.1 701.6,739.6 695.7,733.5 704.1,731.9"/>
<polygon points="736.6,696.0 740.7,703.5 749.1,705.0 743.2,711.2 744.3,719.7 736.6,716.0 728.9,719.7 730.0,711.2 724.1,705.0 732.5,703.5"/>
</g></svg>
</body></html>
